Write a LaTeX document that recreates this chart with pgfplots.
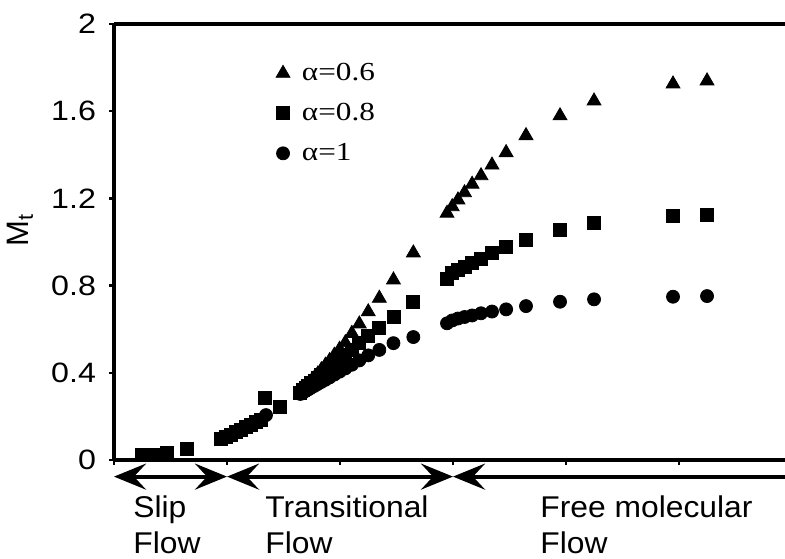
\documentclass[border=0pt]{standalone}
\usepackage{fontspec}
\setmainfont{Liberation Sans}
\newfontfamily\tickfont[FakeStretch=1.15]{Liberation Sans}
\newfontfamily\legfont[FakeStretch=1.2]{Liberation Serif}
\newfontfamily\flowfont[FakeStretch=1.06]{Liberation Sans}
\usepackage{pgfplots}
\pgfplotsset{compat=1.18}
\usetikzlibrary{arrows.meta}
\begin{document}
\begin{tikzpicture}
\begin{axis}[
  at={(0,0)}, anchor=south west,
  scale only axis, width=335.5pt, height=218pt,
  xmin=0, xmax=5.938, ymin=0, ymax=2,
  axis x line*=bottom, axis y line*=left,
  axis line style={line width=1.6pt},
  xtick={0,1,2,3,4,5}, xticklabels={},
  ytick={0,0.4,0.8,1.2,1.6,2}, yticklabels={0,0.4,0.8,1.2,1.6,2},
  tick align=outside, major tick length=2.5pt,
  tick style={line width=1.2pt, black},
  yticklabel style={font=\fontsize{14}{16}\tickfont, xshift=-3pt},
  clip=false,
  ylabel={M\textsubscript{t}},
  ylabel style={at={(rel axis cs:-0.14,0.528)}, anchor=center, font=\fontsize{15.5}{17}\selectfont},
  legend style={at={(rel axis cs:0.241,0.913)}, anchor=north west, draw=none, fill=none,
    font=\fontsize{13}{15}\legfont, row sep=9pt, column sep=6pt, inner sep=0pt,
    nodes={inner sep=0pt, text height=9pt, text depth=2pt}},
  legend cell align=left,
  legend image code/.code={\draw[#1] plot coordinates {(0.3cm,0cm)};},
]
\addplot[only marks, mark=triangle*, mark size=4pt, draw=black, fill=black] coordinates {
(1.649,0.304) (1.671,0.317) (1.695,0.331) (1.720,0.346) (1.746,0.361) (1.774,0.377) (1.804,0.395) (1.835,0.414) (1.871,0.435) (1.908,0.456) (1.950,0.481) (1.996,0.508) (2.047,0.538) (2.105,0.581) (2.171,0.624) (2.250,0.680) (2.348,0.742) (2.473,0.826) (2.649,0.950)
(2.947,1.132) (2.993,1.162) (3.044,1.193) (3.102,1.226) (3.169,1.265) (3.248,1.304) (3.345,1.353) (3.470,1.410) (3.646,1.488) (3.947,1.579) (4.248,1.647) (4.947,1.725) (5.248,1.739)
};
\addlegendentry{α=0.6}
\addplot[only marks, mark=square*, mark size=3.25pt, draw=black, fill=black] coordinates {
(0.248,0.024) (0.354,0.024) (0.466,0.034) (0.643,0.050)
(0.947,0.096) (0.991,0.106) (1.035,0.117) (1.080,0.128) (1.124,0.140) (1.168,0.151) (1.212,0.163) (1.257,0.174) (1.301,0.186)
(1.336,0.286) (1.469,0.245)
(1.649,0.310) (1.671,0.320) (1.695,0.330) (1.720,0.341) (1.746,0.352) (1.774,0.364) (1.804,0.377) (1.835,0.391) (1.871,0.406) (1.908,0.422) (1.950,0.440) (1.996,0.459) (2.047,0.481) (2.105,0.506) (2.171,0.535) (2.250,0.569) (2.348,0.607) (2.473,0.657) (2.649,0.725)
(2.947,0.833) (2.993,0.858) (3.044,0.872) (3.102,0.888) (3.169,0.904) (3.248,0.924) (3.345,0.950) (3.470,0.976) (3.646,1.009) (3.947,1.055) (4.248,1.086) (4.947,1.119) (5.248,1.124)
};
\addlegendentry{α=0.8}
\addplot[only marks, mark=*, mark size=3.25pt, draw=black, fill=black] coordinates {
(1.345,0.206)
(1.649,0.303) (1.671,0.310) (1.695,0.317) (1.720,0.324) (1.746,0.332) (1.774,0.340) (1.804,0.349) (1.835,0.358) (1.871,0.368) (1.908,0.379) (1.950,0.392) (1.996,0.405) (2.047,0.420) (2.105,0.437) (2.171,0.457) (2.250,0.480) (2.348,0.505) (2.473,0.536) (2.649,0.564)
(2.947,0.627) (2.993,0.640) (3.044,0.649) (3.102,0.656) (3.169,0.663) (3.248,0.673) (3.345,0.681) (3.470,0.691) (3.646,0.706) (3.947,0.726) (4.248,0.737) (4.947,0.749) (5.248,0.752)
};
\addlegendentry{α=1}
\draw[line width=1.6pt] (rel axis cs:0,1) -- (rel axis cs:1,1);
\draw[line width=2pt, {Stealth[length=16pt,width=13pt,inset=6pt]}-{Stealth[length=16pt,width=13pt,inset=6pt]}]
  ([yshift=-8.3pt]axis cs:0,0) -- ([yshift=-8.3pt]axis cs:1,0);
\draw[line width=2pt, {Stealth[length=16pt,width=13pt,inset=6pt]}-{Stealth[length=16pt,width=13pt,inset=6pt]}]
  ([yshift=-8.3pt]axis cs:1,0) -- ([yshift=-8.3pt]axis cs:3,0);
\draw[line width=2pt, {Stealth[length=16pt,width=13pt,inset=6pt]}-]
  ([yshift=-8.3pt]axis cs:3,0) -- ([yshift=-8.3pt]axis cs:5.938,0);
\node[anchor=north west, align=left, font=\fontsize{15}{18}\flowfont, inner sep=0pt] at ([yshift=-17.5pt]axis cs:0.168,0) {Slip\\Flow};
\node[anchor=north west, align=left, font=\fontsize{15}{18}\flowfont, inner sep=0pt] at ([yshift=-17.5pt]axis cs:1.336,0) {Transitional\\Flow};
\node[anchor=north west, align=left, font=\fontsize{15}{18}\flowfont, inner sep=0pt] at ([yshift=-17.5pt]axis cs:3.77,0) {Free molecular\\Flow};
\end{axis}
\pgfresetboundingbox
\path[use as bounding box] (-57pt,-49pt) rectangle (335.5pt,230pt);
\end{tikzpicture}
\end{document}
